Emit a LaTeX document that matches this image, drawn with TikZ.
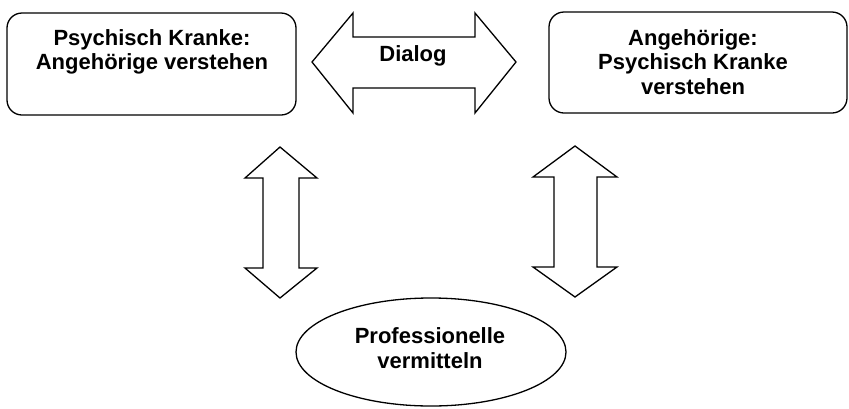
\documentclass[tikz,border=0pt]{standalone}
\usepackage{fontspec}
\setmainfont{Liberation Sans}
\begin{document}
\begin{tikzpicture}[x=1pt,y=-1pt,
  outline/.style={draw=black, line width=1.3pt, line join=miter},
  boxstyle/.style={outline, rounded corners=15pt},
  lbl/.style={font=\fontsize{22}{24.5}\selectfont\bfseries, align=center, inner sep=0pt}]
\useasboundingbox (0,0) rectangle (849,408);
% boxes
\draw[boxstyle] (7,13) rectangle (296,115);
\draw[boxstyle] (549,12) rectangle (847,113);
\node[lbl] (kranke) at (152,52) {Psychisch Kranke:\\Angehörige verstehen};
\node[lbl] (angeh) at (693,62) {Angehörige:\\Psychisch Kranke\\verstehen};
% dialog double arrow
\draw[outline] (312,62) -- (353,13) -- (353,37) -- (475,37) -- (475,13) -- (516,62)
  -- (475,113) -- (475,88) -- (353,88) -- (353,113) -- cycle;
\node[lbl] (dialog) at (413,56) {Dialog};
% vertical double arrows
\draw[outline] (280,147) -- (317,178) -- (299,178) -- (299,268) -- (317,268) -- (280,298)
  -- (245,268) -- (263,268) -- (263,178) -- (245,178) -- cycle;
\draw[outline] (575,146) -- (617,177) -- (597,177) -- (597,267) -- (617,267) -- (575,297)
  -- (533,267) -- (554,267) -- (554,177) -- (533,177) -- cycle;
% ellipse
\draw[outline] (431,352) ellipse [x radius=135, y radius=54];
\node[lbl] (prof) at (430,348) {Professionelle\\vermitteln};
\end{tikzpicture}
\end{document}
